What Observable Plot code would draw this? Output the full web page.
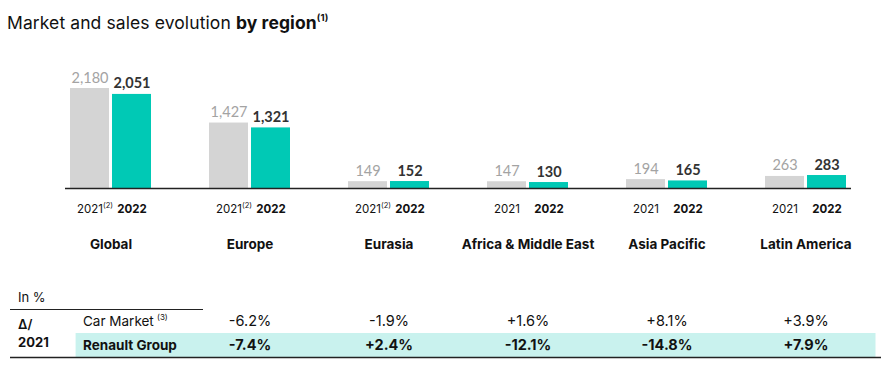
<!DOCTYPE html>
<html><head><meta charset="utf-8">
<script src="https://cdn.jsdelivr.net/npm/d3@7"></script>
<script src="https://cdn.jsdelivr.net/npm/@observablehq/plot@0.6"></script>
<style>
body{margin:0;background:#fff;width:890px;height:373px;overflow:hidden;font-family:Inter,sans-serif;}
#title{height:26px;padding:13px 0 0 7px;font-size:17.5px;line-height:19px;color:#111;white-space:nowrap;letter-spacing:0.1px;}
#title b{font-weight:700}
#title sup{font-size:9.5px;vertical-align:8px;line-height:0;font-weight:700}
svg{display:block}
</style></head><body>
<div id="title">Market and sales evolution <b>by region</b><sup>(1)</sup></div>
<div id="chart"></div>
<div id="table"></div>
<script>
const regions = ["Global", "Europe", "Eurasia", "Africa & Middle East", "Asia Pacific", "Latin America"];
const sales2021 = [2180, 1427, 149, 147, 194, 263];
const sales2022 = [2051, 1321, 152, 130, 165, 283];
const yearNotes = ["(2)", "(2)", "(2)", "", "", ""];
const tableRegions = ["Europe", "Eurasia", "Africa & Middle East", "Asia Pacific", "Latin America"];
const carMarket = [-6.2, -1.9, 1.6, 8.1, 3.9];
const renaultGroup = [-7.4, 2.4, -12.1, -14.8, 7.9];
const rowLabels = ["Car Market", "Renault Group"];

const d2021 = regions.map((r, i) => ({region: r, value: sales2021[i], year: "2021", note: yearNotes[i]}));
const d2022 = regions.map((r, i) => ({region: r, value: sales2022[i], year: "2022"}));
const carData = tableRegions.map((r, i) => ({region: r, v: carMarket[i]}));
const rgData = tableRegions.map((r, i) => ({region: r, v: renaultGroup[i]}));
const fmt = d3.format(",");
const pct = v => (v > 0 ? "+" : "") + v.toFixed(1) + "%";

const GRAY = "#d4d4d4", TEAL = "#00c9b5", ROWBG = "#c9f2ee";
const FONT = "Inter, sans-serif", NUM = "Lato, sans-serif";

const chart = Plot.plot({
  width: 890, height: 230,
  marginLeft: 65, marginRight: 39, marginTop: 49, marginBottom: 81,
  x: {domain: regions, paddingInner: 0.7198, paddingOuter: 0.183, axis: null},
  y: {domain: [0, 2180], axis: null},
  marks: [
    Plot.barY(d2021, {x: "region", y: "value", dx: -21, fill: GRAY}),
    Plot.barY(d2022, {x: "region", y: "value", dx: 21, fill: TEAL}),
    Plot.ruleY([0], {stroke: "#222", strokeWidth: 1.5}),
    Plot.text(d2021, {x: "region", y: "value", text: d => fmt(d.value), dx: -21, dy: -6, lineAnchor: "bottom", fill: "#a3a3a3", fontSize: 14.5, fontFamily: NUM}),
    Plot.text(d2022, {x: "region", y: "value", text: d => fmt(d.value), dx: 21, dy: -6, lineAnchor: "bottom", fill: "#333", fontSize: 14.5, fontWeight: 700, fontFamily: NUM}),
    Plot.text(d2021, {x: "region", y: () => 0, text: "year", dx: -21, dy: 21, fill: "#111", fontSize: 11.5, fontFamily: FONT}),
    Plot.text(d2021, {x: "region", y: () => 0, text: "note", dx: -8, dy: 17, textAnchor: "start", fill: "#111", fontSize: 7.5, fontFamily: FONT}),
    Plot.text(d2022, {x: "region", y: () => 0, text: "year", dx: 21, dy: 21, fill: "#111", fontSize: 11.5, fontWeight: 700, fontFamily: FONT}),
    Plot.text(regions, {x: d => d, y: () => 0, text: d => d, dy: 56, fill: "#111", fontSize: 13.5, fontWeight: 700, fontFamily: FONT})
  ]
});
document.getElementById("chart").append(chart);

const table = Plot.plot({
  width: 890, height: 103,
  marginLeft: 40.4, marginRight: 14.4, marginTop: 16, marginBottom: 15,
  x: {domain: regions, padding: 0, axis: null},
  y: {domain: ["header", ...rowLabels], padding: 0, axis: null},
  marks: [
    Plot.cell(rgData, {x: "region", y: () => "Renault Group", fill: ROWBG, insetLeft: -0.5, insetRight: -0.5}),
    Plot.cell(["Renault Group"], {x: () => "Global", y: d => d, fill: ROWBG, insetLeft: 34.6}),
    Plot.ruleY(["Car Market"], {y: d => d, dy: -12, stroke: "#222", strokeWidth: 1, insetLeft: -30.4, insetRight: 672.6}),
    Plot.ruleY(["Renault Group"], {y: d => d, dy: 12, stroke: "#222", strokeWidth: 1.5, insetLeft: -30.4, insetRight: -5.4}),
    Plot.text(["In %"], {x: () => "Global", y: () => "header", text: d => d, dx: -93, textAnchor: "start", fill: "#111", fontSize: 13, fontFamily: FONT}),
    Plot.text(["Δ/"], {x: () => "Global", y: () => "Car Market", text: d => d, dx: -93, dy: 3, textAnchor: "start", fill: "#111", fontSize: 13, fontWeight: 600, fontFamily: FONT}),
    Plot.text(["2021"], {x: () => "Global", y: () => "Renault Group", text: d => d, dx: -93, dy: -3, textAnchor: "start", fill: "#111", fontSize: 13, fontWeight: 700, fontFamily: FONT}),
    Plot.text(["Car Market"], {x: () => "Global", y: d => d, text: d => d, dx: -28, textAnchor: "start", fill: "#111", fontSize: 13.5, fontFamily: FONT}),
    Plot.text(["(3)"], {x: () => "Global", y: () => "Car Market", text: d => d, dx: 46, dy: -4, textAnchor: "start", fill: "#111", fontSize: 8, fontFamily: FONT}),
    Plot.text(["Renault Group"], {x: () => "Global", y: d => d, text: d => d, dx: -28, textAnchor: "start", fill: "#111", fontSize: 13.5, fontWeight: 700, fontFamily: FONT}),
    Plot.text(carData, {x: "region", y: () => "Car Market", text: d => pct(d.v), fill: "#111", fontSize: 14.5, fontFamily: FONT}),
    Plot.text(rgData, {x: "region", y: () => "Renault Group", text: d => pct(d.v), fill: "#111", fontSize: 14.5, fontWeight: 700, fontFamily: FONT})
  ]
});
document.getElementById("table").append(table);
</script>
</body></html>
